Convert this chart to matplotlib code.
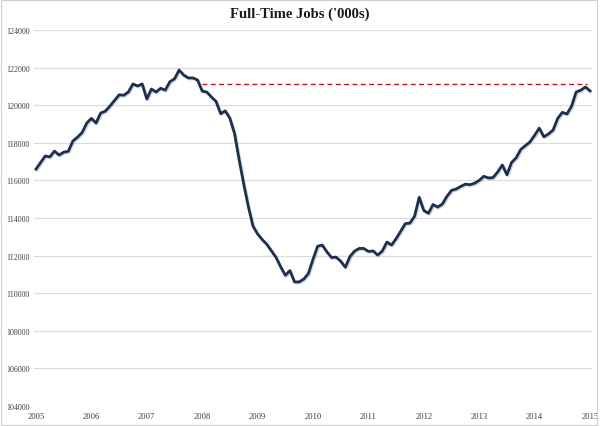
import matplotlib
matplotlib.use("Agg")
import matplotlib.pyplot as plt
import matplotlib.patheffects as pe
from matplotlib.patches import Rectangle

# Monthly full-time jobs ('000s), Jan 2005 .. Jan 2015
jobs = [
    116600, 116950, 117300, 117250, 117560, 117350, 117500, 117550, 118100, 118300, 118550, 119050,
    119300, 119050, 119580, 119680, 119950, 120250, 120550, 120530, 120700, 121130, 121020, 121130,
    120330, 120860, 120700, 120900, 120800, 121250, 121400, 121870, 121600, 121450, 121450, 121340,
    120750, 120700, 120430, 120200, 119550, 119700, 119300, 118500, 117100, 115800, 114600, 113570,
    113150, 112850, 112600, 112250, 111900, 111400, 110950, 111200, 110600, 110600, 110750, 111050,
    111800, 112500, 112560, 112200, 111900, 111920, 111700, 111380, 111950, 112240, 112380, 112380,
    112220, 112250, 112030, 112240, 112720, 112560, 112900, 113300, 113700, 113730, 114100, 115100,
    114400, 114250, 114720, 114580, 114740, 115150, 115470, 115540, 115680, 115800, 115770, 115850,
    116000, 116220, 116130, 116150, 116450, 116820, 116300, 116950, 117200, 117650, 117850, 118050,
    118400, 118780, 118320, 118470, 118680, 119300, 119620, 119530, 119950, 120700, 120800, 120970,
    120760,
]
year_labels = ["2005", "2006", "2007", "2008", "2009", "2010", "2011", "2012", "2013", "2014", "2015"]
y_ticks = [104000, 106000, 108000, 110000, 112000, 114000, 116000, 118000, 120000, 122000, 124000]
ref_level = 121130       # dashed reference level
ref_start_month = 36     # Jan 2008

months = list(range(len(jobs)))

fig = plt.figure(figsize=(6.0, 4.27), dpi=100)
ax = fig.add_axes([34/600, 1-407/427, (592-34)/600, (407-31)/427])

serif = ["Liberation Serif", "DejaVu Serif"]

for yv in y_ticks:
    ax.axhline(yv, color="#dcdcdc", lw=0.9, zorder=0)

ax.plot([ref_start_month, len(jobs) - 1.6], [ref_level, ref_level],
        color="#c0141c", lw=1.0, ls=(0, (3.5, 2.5)), zorder=2)

ax.plot(months, jobs, color="#1c2f4d", lw=2.0, solid_joinstyle="round", zorder=3,
        path_effects=[pe.SimpleLineShadow(offset=(0.8, -0.8), shadow_color="#8090a0", alpha=0.35),
                      pe.Normal()])

ax.set_xlim(-0.43, 120.43)
ax.set_ylim(104000, 124000)
ax.set_xticks([12*i for i in range(len(year_labels))])
ax.set_xticklabels(year_labels, fontsize=6.2, color="#404040", family=serif)
ax.set_yticks(y_ticks)
ax.set_yticklabels([str(v) for v in y_ticks], fontsize=5.8, color="#404040", family=serif)
ax.tick_params(axis="both", length=0, pad=3)
ax.tick_params(axis="x", pad=4)
for s in ax.spines.values():
    s.set_visible(False)

fig.text(0.5, 1-14/427, "Full-Time Jobs ('000s)", ha="center", va="center",
         fontsize=10.5, fontweight="bold", family=serif, color="#1a1a1a")

fig.patches.append(Rectangle((0.002, 0.002), 0.993, 0.996, transform=fig.transFigure,
                             fill=False, edgecolor="#d0d0d0", lw=0.8))

fig.savefig("out.png", dpi=100)
